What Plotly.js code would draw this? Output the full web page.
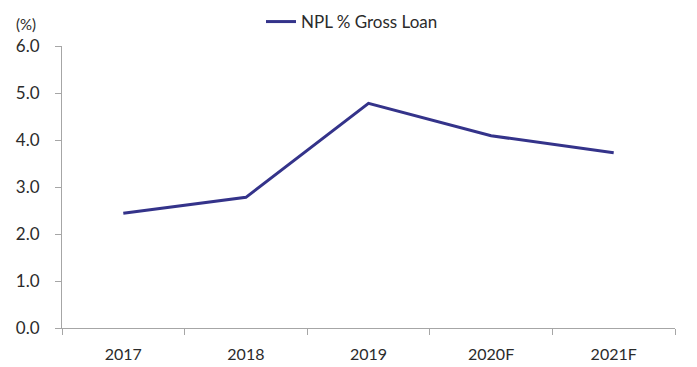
<!DOCTYPE html>
<html>
<head>
<meta charset="utf-8">
<script src="https://cdn.plot.ly/plotly-3.0.1.min.js"></script>
<style>html,body{margin:0;padding:0;background:#fff;}#chart{width:697px;height:367px;}</style>
</head>
<body>
<div id="chart"></div>
<script>
const categories = ["2017", "2018", "2019", "2020F", "2021F"];
const nplValues = [2.44, 2.78, 4.78, 4.09, 3.73];
const seriesName = "NPL % Gross Loan";
const yTickValues = [0, 1, 2, 3, 4, 5, 6];

const trace = {
  x: categories,
  y: nplValues,
  type: "scatter",
  mode: "lines",
  name: seriesName,
  line: {color: "#34338a", width: 3}
};

const layout = {
  width: 697,
  height: 367,
  margin: {l: 62, r: 22, t: 46, b: 39},
  paper_bgcolor: "#fff",
  plot_bgcolor: "#fff",
  font: {family: "Lato, 'Open Sans', sans-serif", size: 17, color: "#2b2b2b"},
  showlegend: true,
  legend: {
    orientation: "h",
    xref: "container", yref: "container",
    x: 0.505, xanchor: "center",
    y: 0.94, yanchor: "middle",
    font: {size: 17, color: "#2b2b2b"}
  },
  xaxis: {
    type: "category",
    range: [-0.5, 4.5],
    showline: true,
    linecolor: "#a6a6a6",
    linewidth: 1,
    ticks: "outside",
    tickson: "boundaries",
    ticklen: 6,
    tickcolor: "#a6a6a6",
    showgrid: false,
    zeroline: false,
    ticklabelstandoff: 12,
    tickfont: {size: 16, color: "#2b2b2b"}
  },
  yaxis: {
    range: [0, 6],
    tickvals: yTickValues,
    tickformat: ".1f",
    showline: true,
    linecolor: "#a6a6a6",
    linewidth: 1,
    ticks: "outside",
    ticklen: 6,
    tickcolor: "#a6a6a6",
    showgrid: false,
    zeroline: false,
    ticklabelstandoff: 12,
    tickfont: {size: 17, color: "#2b2b2b"}
  },
  annotations: [{
    text: "(%)",
    xref: "paper", yref: "paper",
    x: -0.077, xanchor: "left",
    y: 1.078, yanchor: "middle",
    showarrow: false,
    borderpad: 0,
    font: {size: 15, color: "#2b2b2b"}
  }]
};

Plotly.newPlot("chart", [trace], layout, {displayModeBar: false, staticPlot: true});
</script>
</body>
</html>
